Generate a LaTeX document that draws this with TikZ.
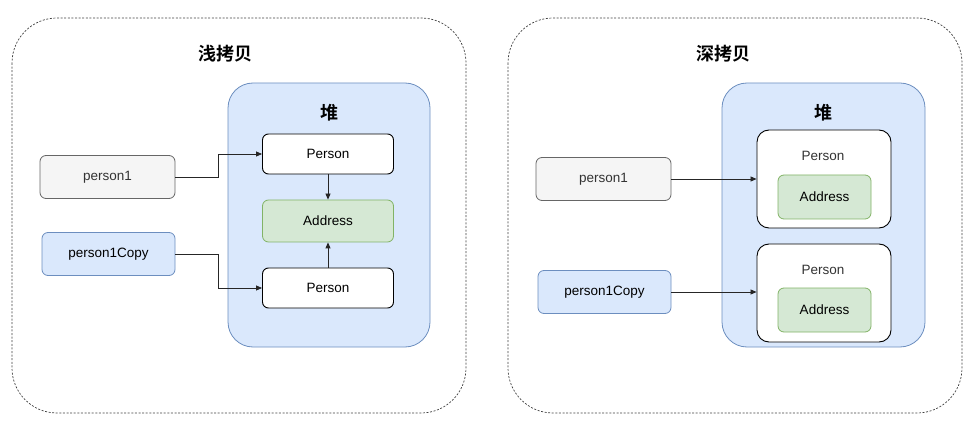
\documentclass[tikz,border=0pt]{standalone}
\usepackage{fontspec}
\setmainfont{Liberation Sans}
\newfontfamily\cjk{Noto Sans CJK SC}[BoldFont={* Bold}]
\usetikzlibrary{arrows.meta}
\definecolor{grayfill}{HTML}{F5F5F5}
\definecolor{graystroke}{HTML}{666666}
\definecolor{bluefill}{HTML}{DAE8FC}
\definecolor{bluestroke}{HTML}{6C8EBF}
\definecolor{greenfill}{HTML}{D5E8D4}
\definecolor{greenstroke}{HTML}{82B366}
\tikzset{
  outerbox/.style={draw=black!75, dash pattern=on 2pt off 1.6pt, line width=0.7pt, rounded corners=45pt},
  heapbox/.style={draw=bluestroke, fill=bluefill, line width=0.8pt, rounded corners=25pt},
  varbox/.style={rounded corners=6pt, line width=0.8pt, minimum height=43pt, font=\fontsize{13.5}{15}\selectfont, inner sep=0pt},
  gvar/.style={varbox, draw=graystroke, fill=grayfill, text=black!80},
  bvar/.style={varbox, draw=bluestroke, fill=bluefill},
  personbox/.style={draw=black, fill=white, rounded corners=6pt, line width=0.9pt, minimum width=131pt, minimum height=40pt, font=\fontsize{13.5}{15}\selectfont, inner sep=0pt},
  addrbox/.style={draw=greenstroke, fill=greenfill, rounded corners=6pt, line width=0.8pt, minimum height=42pt, font=\fontsize{13.5}{15}\selectfont, inner sep=0pt},
  bigperson/.style={draw=black, fill=white, rounded corners=12pt, line width=0.9pt, minimum width=134pt, minimum height=98pt, inner sep=0pt},
  title/.style={font=\cjk\bfseries\fontsize{18}{20}\selectfont},
  arr/.style={-{Triangle[length=6pt,width=5pt]}, line width=0.8pt, draw=black!85},
}
\begin{document}
\begin{tikzpicture}[x=1pt,y=-1pt]
\useasboundingbox (0,0) rectangle (972,422);
% ---------- Left panel: shallow copy ----------
\draw[outerbox] (12,18) rectangle (466,413);
\node[title] (t1) at (225,54) {浅拷贝};
\draw[heapbox] (228,83) rectangle (430,347);
\node[title] (h1) at (329,113) {堆};
\node[personbox] (p1) at (328,154) {Person};
\node[addrbox, minimum width=131pt] (a1) at (328,221) {Address};
\node[personbox] (p2) at (328,288) {Person};
\node[gvar, minimum width=135pt] (v1) at (107.5,177) {person1};
\node[bvar, minimum width=133pt] (c1) at (108.5,254) {person1Copy};
\draw[arr] (v1.east) -- (218,177) |- (p1.west);
\draw[arr] (c1.east) -- (218,254) |- (p2.west);
\draw[arr] (p1.south) -- (a1.north);
\draw[arr] (p2.north) -- (a1.south);
% ---------- Right panel: deep copy ----------
\draw[outerbox] (508,18) rectangle (962,413);
\node[title] (t2) at (723,54) {深拷贝};
\draw[heapbox] (722,83) rectangle (925,347);
\node[title] (h2) at (823,113) {堆};
\node[bigperson] (q1) at (824,179) {};
\node[font=\fontsize{13.5}{15}\selectfont, text=black!80] (q1t) at (823,156) {Person};
\node[addrbox, minimum width=93pt, minimum height=44pt] (b1) at (824.5,197) {Address};
\node[bigperson] (q2) at (824,293) {};
\node[font=\fontsize{13.5}{15}\selectfont, text=black!80] (q2t) at (823,270) {Person};
\node[addrbox, minimum width=93pt, minimum height=44pt] (b2) at (824.5,310) {Address};
\node[gvar, minimum width=135pt] (v2) at (603.5,179) {person1};
\node[bvar, minimum width=133pt] (c2) at (604.5,292) {person1Copy};
\draw[arr] (v2.east) -- (v2.east -| q1.west);
\draw[arr] (c2.east) -- (c2.east -| q2.west);
\end{tikzpicture}
\end{document}
